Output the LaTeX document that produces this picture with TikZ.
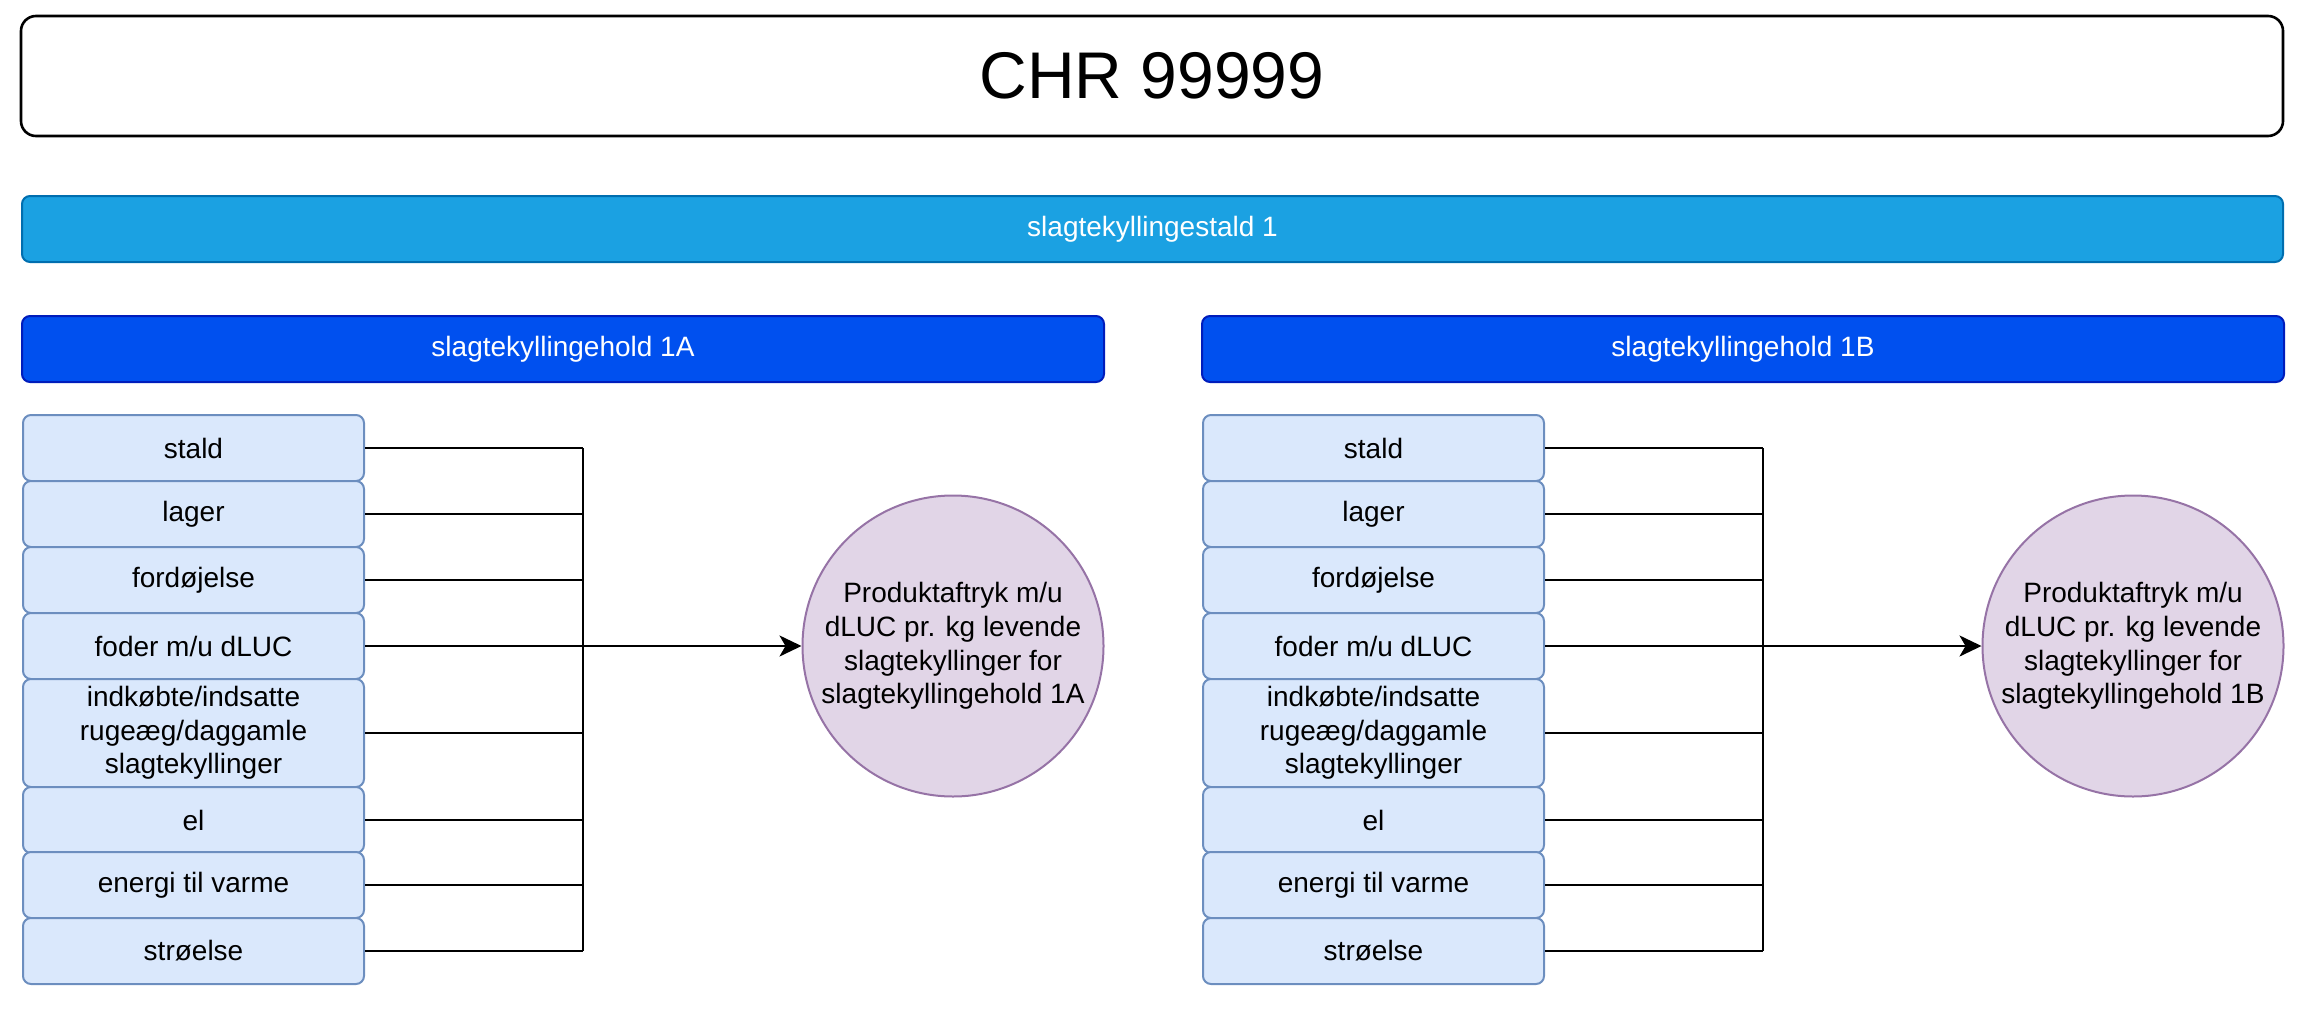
\documentclass[tikz,border=0pt]{standalone}
\usepackage{fontspec}
\setmainfont{Liberation Sans}
\usetikzlibrary{arrows.meta}
\definecolor{titlestroke}{HTML}{000000}
\definecolor{stallfill}{HTML}{1BA1E2}
\definecolor{stallstroke}{HTML}{006EAF}
\definecolor{holdfill}{HTML}{0050EF}
\definecolor{holdstroke}{HTML}{001DBC}
\definecolor{itemfill}{HTML}{DAE8FC}
\definecolor{itemstroke}{HTML}{6C8EBF}
\definecolor{resfill}{HTML}{E1D5E7}
\definecolor{resstroke}{HTML}{9673A6}
\begin{document}
\begin{tikzpicture}[x=1pt,y=-1pt,
  txt/.style={font=\fontsize{28}{33.6}\selectfont},
  titlebox/.style={draw=titlestroke,fill=white,line width=2.6pt,rounded corners=15pt,
    minimum width=2262pt,minimum height=120pt,inner sep=0pt,font=\fontsize{66}{79}\selectfont},
  stallbar/.style={txt,draw=stallstroke,fill=stallfill,text=white,line width=2pt,rounded corners=8pt,
    minimum width=2261pt,minimum height=66pt,inner sep=0pt},
  holdbar/.style={txt,draw=holdstroke,fill=holdfill,text=white,line width=2pt,rounded corners=8pt,
    minimum width=1082pt,minimum height=66pt,inner sep=0pt},
  itembox/.style={txt,draw=itemstroke,fill=itemfill,line width=2pt,rounded corners=8pt,
    minimum width=341pt,minimum height=66pt,inner sep=0pt,align=center},
  resnode/.style={txt,circle,draw=resstroke,fill=resfill,line width=2pt,
    minimum size=301pt,inner sep=0pt,align=center},
  conn/.style={line width=2.4pt,draw=black},
  arr/.style={conn,-{Stealth[length=22pt,width=21pt,inset=6pt]}}
]
\useasboundingbox (0,0) rectangle (2314,1033);

\node[titlebox] (title) at (1152,76) {CHR 99999};
\node[stallbar] (stald1) at (1152.5,229) {slagtekyllingestald 1};

\foreach \g/\dx in {A/0,B/1180}{
  \node[holdbar] (hold\g) at (563+\dx,349) {slagtekyllingehold 1\g};
  \node[itembox] (stald\g) at (193.5+\dx,448) {stald};
  \node[itembox] (lager\g) at (193.5+\dx,514) {lager};
  \node[itembox] (ford\g) at (193.5+\dx,580) {fordøjelse};
  \node[itembox] (foder\g) at (193.5+\dx,646) {foder m/u dLUC};
  \node[itembox,minimum height=108pt] (indk\g) at (193.5+\dx,733) {indkøbte/indsatte\\rugeæg/daggamle\\slagtekyllinger};
  \node[itembox] (el\g) at (193.5+\dx,820) {el};
  \node[itembox] (energi\g) at (193.5+\dx,885) {energi til varme};
  \node[itembox] (stro\g) at (193.5+\dx,951) {strøelse};
  \node[resnode] (res\g) at (953+\dx,646) {Produktaftryk m/u\\dLUC pr. kg levende\\slagtekyllinger for\\slagtekyllingehold 1\g};
  \coordinate (bus\g) at (583+\dx,0);
  \foreach \n in {stald,lager,ford,indk,el,energi,stro}{
    \draw[conn] (\n\g.east) -- (\n\g.east -| bus\g);
  }
  \draw[conn] (stald\g.east -| bus\g) -- (stro\g.east -| bus\g);
  \draw[arr] (foder\g.east) -- (foder\g.east -| res\g.west);
}
\end{tikzpicture}
\end{document}
